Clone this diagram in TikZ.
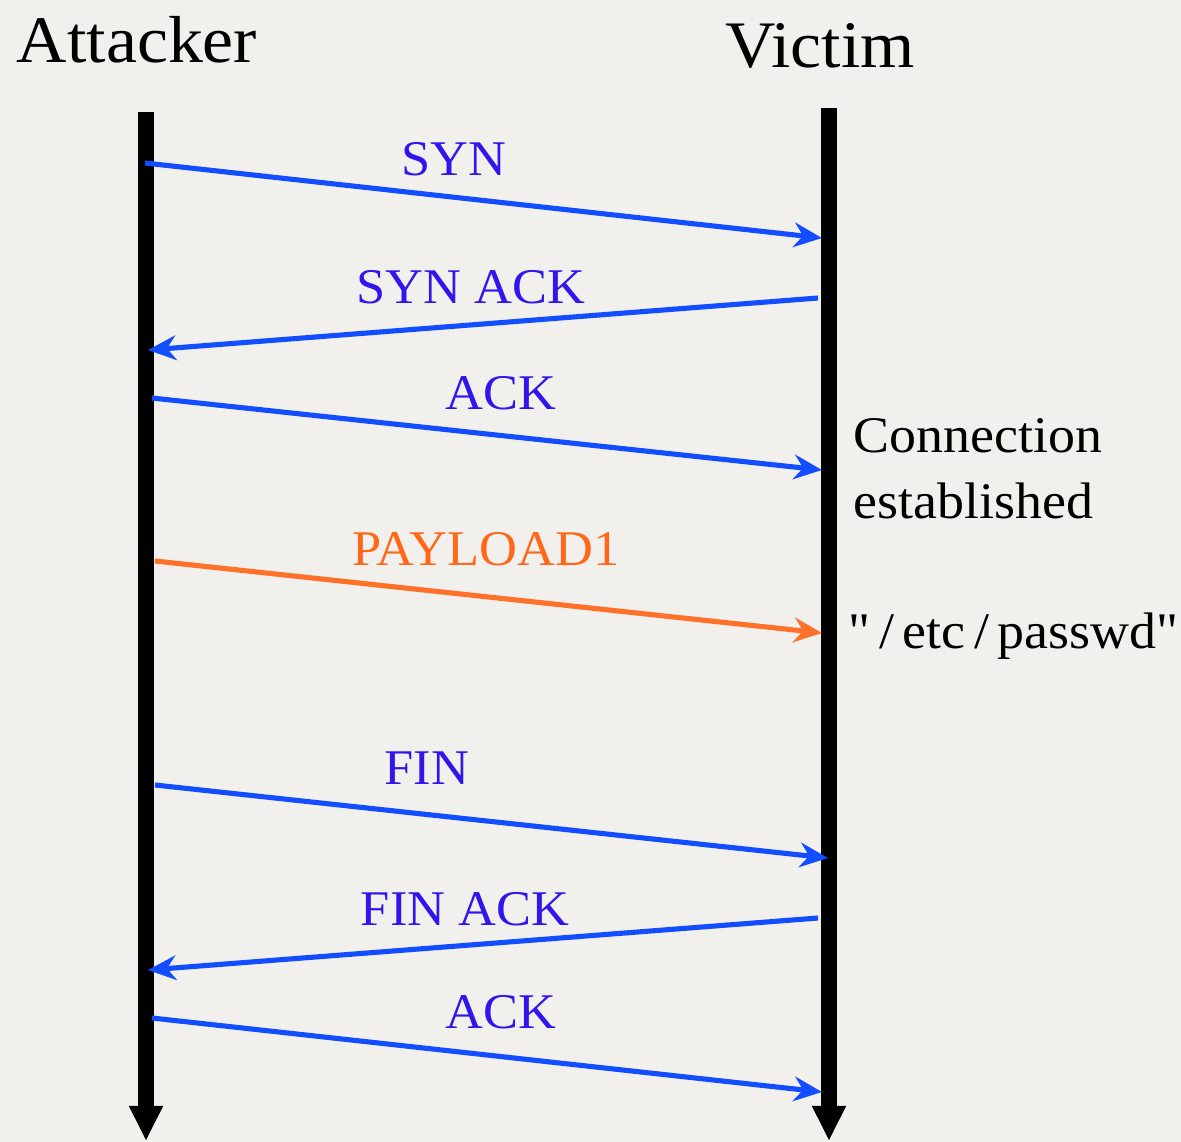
\documentclass[tikz,border=0pt]{standalone}
\usepackage{fontspec}
\setmainfont[FakeStretch=1.05]{Liberation Serif}
% same face without TeX ligatures, so that " stays a straight quote
\newfontfamily\plainserif[FakeStretch=1.05]{Liberation Serif}
\usetikzlibrary{arrows.meta}

\definecolor{paper}{RGB}{242,240,236}
\definecolor{msgline}{RGB}{18,78,255}
\definecolor{msgtext}{RGB}{48,22,236}
\definecolor{payline}{RGB}{255,112,40}
\definecolor{paytext}{RGB}{255,104,24}

\tikzset{
  lifeline/.style={line width=4.6pt, black, -{Triangle[width=9pt,length=10pt]}},
  msg/.style={line width=1.45pt, msgline, -{Stealth[length=8pt,width=7pt,inset=2.6pt]}},
  paymsg/.style={msg, payline},
  actor/.style={inner sep=0pt, anchor=base, font=\fontsize{18.9}{22}\selectfont},
  msglabel/.style={inner sep=0pt, anchor=base, text=msgtext, font=\fontsize{14.2}{17}\selectfont},
  paylabel/.style={msglabel, text=paytext},
  note/.style={inner sep=0pt, anchor=base west, font=\fontsize{14.6}{17}\selectfont}
}

\begin{document}
\begin{tikzpicture}[x=0.01cm, y=-0.01cm]
  % canvas
  \fill[paper] (0,0) rectangle (1181,1142);
  \useasboundingbox (0,0) rectangle (1181,1142);

  % actors
  \node[actor] (attacker) at (137,62) {Attacker};
  \node[actor] (victim) at (820,67) {Victim};

  % lifelines
  \coordinate (atop) at (146,112);
  \coordinate (abot) at (146,1141);
  \coordinate (vtop) at (829,108);
  \coordinate (vbot) at (829,1141);
  \draw[lifeline] (atop) -- (abot);
  \draw[lifeline] (vtop) -- (vbot);

  % message end points on the lifelines
  \coordinate (syn-a) at (145,163);  \coordinate (syn-v) at (822,238);
  \coordinate (sa-v) at (818,298);   \coordinate (sa-a) at (148,350);
  \coordinate (ack-a) at (152,398);  \coordinate (ack-v) at (822,470);
  \coordinate (pl-a) at (155,561);   \coordinate (pl-v) at (822,633);
  \coordinate (fin-a) at (155,785);  \coordinate (fin-v) at (828,858);
  \coordinate (fa-v) at (818,918);   \coordinate (fa-a) at (148,970);
  \coordinate (ack2-a) at (152,1018);\coordinate (ack2-v) at (822,1092);

  % handshake
  \draw[msg] (syn-a) -- (syn-v);
  \node[msglabel] (synl) at (454,175) {SYN};
  \draw[msg] (sa-v) -- (sa-a);
  \node[msglabel] (sal) at (471,303) {SYN ACK};
  \draw[msg] (ack-a) -- (ack-v);
  \node[msglabel] (ackl) at (501,409) {ACK};

  % payload
  \draw[paymsg] (pl-a) -- (pl-v);
  \node[paylabel] (pll) at (486,565) {PAYLOAD1};

  % teardown
  \draw[msg] (fin-a) -- (fin-v);
  \node[msglabel] (finl) at (427,784) {FIN};
  \draw[msg] (fa-v) -- (fa-a);
  \node[msglabel] (fal) at (465,925) {FIN ACK};
  \draw[msg] (ack2-a) -- (ack2-v);
  \node[msglabel] (ack2l) at (501,1028) {ACK};

  % notes on the victim side
  \node[note] (conn1) at (853,452) {Connection};
  \node[note] (conn2) at (853,518) {established};
  \node[note] (file) at (848,648) {\plainserif "\,/\,etc\,/\,passwd"};
\end{tikzpicture}
\end{document}
